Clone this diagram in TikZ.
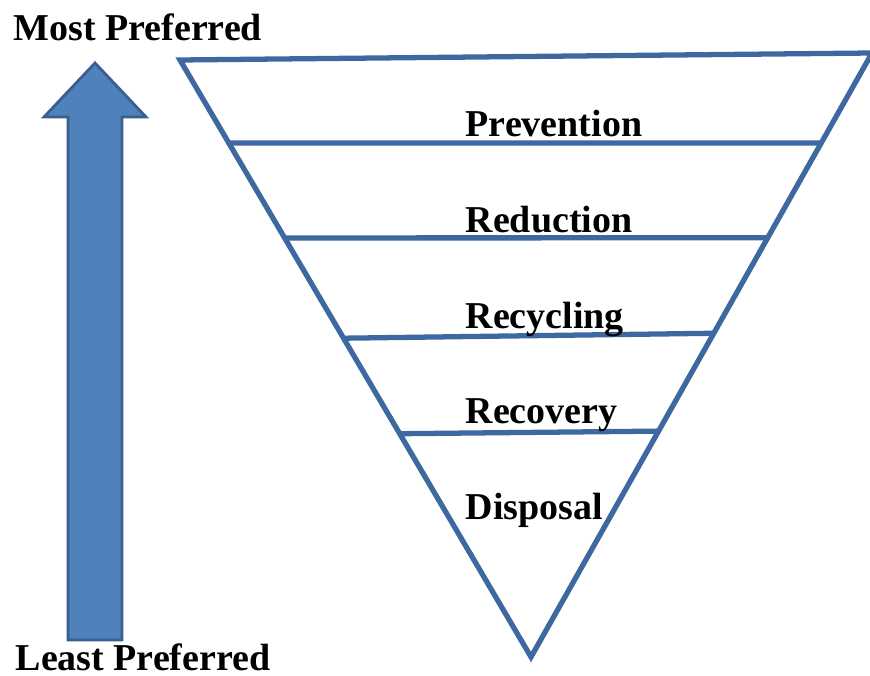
\documentclass[tikz,border=0pt]{standalone}
\usepackage{fontspec}
\setmainfont{Liberation Serif}
\usetikzlibrary{calc}
\definecolor{tribl}{RGB}{62,104,160}
\definecolor{arrfill}{RGB}{79,129,189}
\definecolor{arrline}{RGB}{58,95,143}
\begin{document}
\begin{tikzpicture}
	    \tikzset{lbl/.style={font=\bfseries\fontsize{10.8}{12}\selectfont, anchor=base west, inner sep=0pt},
	             tri/.style={color=tribl, line width=1.5pt}}
	    \useasboundingbox (0,0) rectangle (8.70,6.75);
	    % triangle corners
	    \coordinate (tl) at (1.80,6.15);
	    \coordinate (tr) at (8.72,6.22);
	    \coordinate (ap) at (5.31,0.18);
	    \draw[tri, line join=miter] (tl) -- (tr) -- (ap) -- cycle;
	    \draw[tri] ($(tl)!0.139!(ap)$) -- ($(tr)!0.149!(ap)$);
	    \draw[tri] ($(tl)!0.298!(ap)$) -- ($(tr)!0.306!(ap)$);
	    \draw[tri] ($(tl)!0.466!(ap)$) -- ($(tr)!0.464!(ap)$);
	    \draw[tri] ($(tl)!0.626!(ap)$) -- ($(tr)!0.626!(ap)$);
	    % big arrow
	    \filldraw[fill=arrfill, draw=arrline, line width=0.8pt, line join=miter]
	        (0.68,0.35) -- (0.68,5.58) -- (0.44,5.58) -- (0.95,6.12)
	        -- (1.46,5.58) -- (1.22,5.58) -- (1.22,0.35) -- cycle;
	    \node[lbl] (most) at (0.13,6.34) {Most Preferred};
	    \node[lbl] (least) at (0.15,0.05) {Least Preferred};
	    \node[lbl] (prev) at (4.65,5.38) {Prevention};
	    \node[lbl] (redu) at (4.65,4.42) {Reduction};
	    \node[lbl] (recy) at (4.65,3.47) {Recycling};
	    \node[lbl] (reco) at (4.65,2.52) {Recovery};
	    \node[lbl] (disp) at (4.65,1.56) {Disposal};
\end{tikzpicture}
\end{document}
